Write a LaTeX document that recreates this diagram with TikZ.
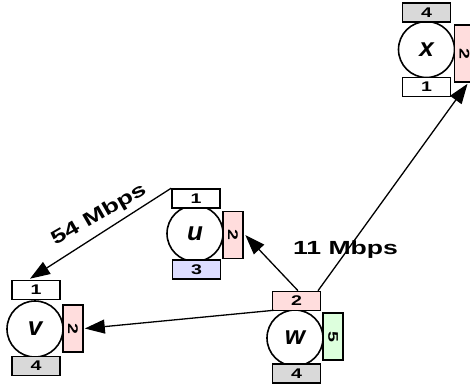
\documentclass[tikz,border=0pt]{standalone}
\usepackage{fontspec}
\setmainfont{Liberation Sans}
\usetikzlibrary{arrows.meta}
\definecolor{pinkf}{RGB}{255,221,221}
\definecolor{grayf}{RGB}{217,217,217}
\definecolor{bluef}{RGB}{221,221,255}
\definecolor{greenf}{RGB}{221,255,221}
\newcommand\stretchtxt[1]{\scalebox{1.4}[1]{#1}}
\begin{document}
\begin{tikzpicture}[x=1pt,y=-1pt,
  box/.style={draw, fill=white, line width=1.6pt, inner sep=0pt, minimum width=48pt, minimum height=19pt,
    font=\bfseries\fontsize{14}{14}\selectfont},
  sidebox/.style={box, rotate=-90, minimum width=47pt, minimum height=20pt},
  host/.style={draw, circle, fill=white, line width=1.6pt, minimum size=56pt, inner sep=0pt,
    font=\bfseries\itshape\fontsize{26}{26}\selectfont},
  arr/.style={line width=1.3pt, -{Triangle[length=20pt,width=14pt]}},
  lbl/.style={font=\bfseries\fontsize{19}{19}\selectfont, inner sep=0pt}]
\useasboundingbox (0,0) rectangle (470,389);
% node v
\node[host] (v) at (35,329) {v};
\node[box] (vtop) at (36,290) {\stretchtxt{1}};
\node[sidebox, fill=pinkf] (vright) at (73,328.5) {\stretchtxt{2}};
\node[box, fill=grayf] (vbot) at (36,366) {\stretchtxt{4}};
% node u
\node[host] (u) at (195,233.5) {u};
\node[box] (utop) at (196,198.5) {\stretchtxt{1}};
\node[sidebox, fill=pinkf] (uright) at (233,235) {\stretchtxt{2}};
\node[box, fill=bluef] (ubot) at (196.5,269.5) {\stretchtxt{3}};
% node w
\node[host] (w) at (295,338) {w};
\node[box, fill=pinkf] (wtop) at (296.5,301) {\stretchtxt{2}};
\node[sidebox, fill=greenf] (wright) at (333,336.5) {\stretchtxt{5}};
\node[box, fill=grayf] (wbot) at (296.5,373.5) {\stretchtxt{4}};
% node x
\node[host] (x) at (426.5,49.5) {x};
\node[box, fill=grayf] (xtop) at (426.5,12.5) {\stretchtxt{4}};
\node[sidebox, fill=pinkf, minimum width=57pt] (xright) at (464.5,53.5) {\stretchtxt{2}};
\node[box] (xbot) at (426.5,87) {\stretchtxt{1}};
% connectors
\draw[arr] ([xshift=21.5pt]wtop.north) -- ([xshift=3pt,yshift=-1pt]xright.east);
\draw[arr] ([xshift=1.5pt]wtop.north) -- ([xshift=1.5pt]uright.north);
\draw[arr] ([xshift=2pt,yshift=1pt]wtop.south west) -- ([xshift=1pt]vright.north);
\draw[arr] (utop.north west) -- ([xshift=-6pt,yshift=1pt]vtop.north);
% labels
\node[lbl, anchor=base] (l11) at (345.5,254) {\stretchtxt{11 Mbps}};
\node[lbl, rotate=30] (l54) at (99,215) {\stretchtxt{54 Mbps}};
\end{tikzpicture}
\end{document}
